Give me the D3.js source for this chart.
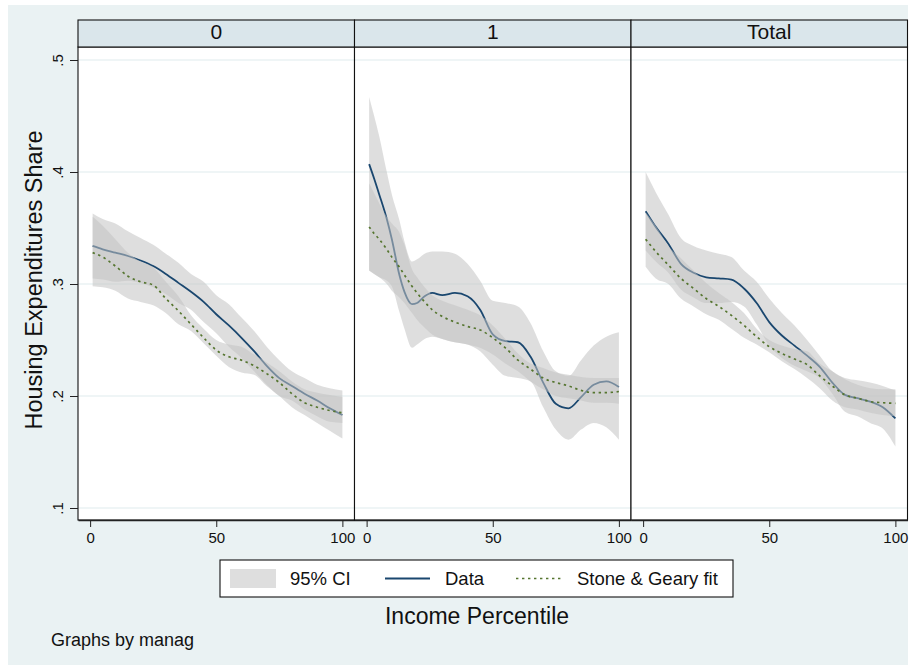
<!DOCTYPE html>
<meta charset="utf-8">
<style>
    body { margin: 0; background: #fff; }
    svg { font-family: "Liberation Sans", Arial, sans-serif; }
    .axis path, .axis line { stroke: #222; }
    .axis text { fill: #111; }
</style>
<body>
<svg id="chart" width="912" height="666"></svg>
</body>
<script src="https://d3js.org/d3.v7.min.js"></script>
<script>

    // ---- data ----
    var panelNames = ["0", "1", "Total"];
    var yTicks = [0.1, 0.2, 0.3, 0.4, 0.5];
    var xTicks = [0, 50, 100];
    var legendLabels = ["95% CI", "Data", "Stone & Geary fit"];

    // panel "0"
    var pct0 = [1, 5, 10, 15, 20, 25, 30, 35, 40, 45, 50, 55, 60, 65, 70, 75, 80, 85, 90, 95, 100];
    var data0 = [.334, .331, .328, .325, .321, .316, .309, .301, .293, .284, .273, .263, .252, .240, .227, .216, .209, .202, .196, .189, .183];
    var dataLo0 = [.305, .304, .302, .303, .301, .297, .291, .283, .277, .266, .256, .244, .234, .222, .210, .200, .196, .188, .182, .177, .176];
    var dataHi0 = [.363, .358, .354, .347, .341, .335, .327, .319, .309, .302, .290, .282, .270, .258, .244, .232, .222, .216, .210, .207, .205];
    var fit0 = [.328, .324, .316, .307, .302, .299, .287, .276, .264, .252, .241, .235, .232, .227, .220, .212, .202, .194, .190, .187, .185];
    var fitLo0 = [.298, .297, .294, .287, .284, .281, .274, .264, .258, .247, .236, .226, .221, .219, .209, .200, .190, .183, .176, .169, .162];
    var fitHi0 = [.360, .352, .340, .328, .320, .315, .302, .289, .272, .260, .250, .246, .244, .237, .230, .222, .213, .206, .203, .201, .199];

    // panel "1"
    var pct1 = [1, 3, 5, 8, 10, 13, 15, 18, 20, 23, 26, 30, 35, 40, 45, 50, 55, 60, 65, 70, 75, 80, 85, 90, 95, 100];
    var data1 = [.407, .394, .380, .358, .340, .308, .293, .282, .283, .289, .292, .290, .292, .289, .277, .255, .249, .248, .235, .212, .193, .189, .199, .210, .213, .208];
    var dataLo1 = [.312, .309, .306, .303, .298, .275, .260, .243, .246, .251, .253, .251, .248, .246, .240, .228, .218, .216, .213, .190, .170, .161, .170, .176, .172, .161];
    var dataHi1 = [.467, .450, .432, .400, .380, .357, .338, .320, .322, .327, .329, .329, .327, .318, .303, .285, .283, .280, .265, .240, .222, .218, .232, .245, .253, .257];
    var fit1 = [.351, .345, .340, .331, .324, .315, .308, .298, .292, .284, .277, .271, .266, .262, .259, .252, .243, .232, .224, .216, .212, .209, .205, .203, .203, .204];
    var fitLo1 = [.312, .309, .306, .300, .294, .288, .283, .274, .268, .261, .255, .251, .248, .246, .243, .237, .229, .222, .213, .206, .200, .198, .196, .194, .194, .193];
    var fitHi1 = [.390, .381, .372, .360, .354, .346, .335, .313, .306, .297, .290, .285, .281, .277, .272, .263, .251, .238, .229, .225, .221, .219, .217, .216, .216, .216];

    // panel "Total"
    var pct2 = [1, 5, 10, 15, 20, 25, 30, 35, 40, 45, 50, 55, 60, 65, 70, 75, 80, 85, 90, 95, 100];
    var data2 = [.365, .351, .336, .318, .310, .306, .305, .304, .296, .283, .266, .254, .245, .236, .226, .212, .201, .198, .195, .190, .180];
    var dataLo2 = [.330, .320, .310, .295, .288, .283, .283, .284, .280, .264, .245, .234, .227, .222, .216, .202, .186, .182, .176, .171, .155];
    var dataHi2 = [.400, .382, .362, .341, .334, .330, .327, .324, .312, .302, .287, .274, .263, .250, .236, .222, .216, .214, .212, .209, .205];
    var fit2 = [.340, .329, .317, .305, .296, .287, .280, .272, .263, .253, .244, .238, .233, .228, .218, .209, .201, .198, .195, .194, .1935];
    var fitLo2 = [.3155, .305, .300, .287, .280, .273, .268, .260, .252, .246, .239, .231, .224, .216, .207, .196, .190, .188, .185, .183, .182];
    var fitHi2 = [.364, .352, .334, .323, .312, .301, .292, .284, .274, .260, .250, .245, .242, .240, .229, .222, .215, .210, .207, .206, .206];

    var panels = [
        {name: panelNames[0], pct: pct0, data: data0, dataLo: dataLo0, dataHi: dataHi0, fit: fit0, fitLo: fitLo0, fitHi: fitHi0},
        {name: panelNames[1], pct: pct1, data: data1, dataLo: dataLo1, dataHi: dataHi1, fit: fit1, fitLo: fitLo1, fitHi: fitHi1},
        {name: panelNames[2], pct: pct2, data: data2, dataLo: dataLo2, dataHi: dataHi2, fit: fit2, fitLo: fitLo2, fitHi: fitHi2}
    ];

    // ---- look ----
    var bg = "#eaf2f3";
    var stripFill = "#dae6eb";
    var navy = "#1a476f";
    var green = "#55752f";
    var bandFill = "#c3c3c3";
    var bandOpacity = 0.55;

    var plotTop = 47, plotBottom = 520, panelLeft = 78, panelWidth = 276.5;

    var svg = d3.select("#chart");

    svg.append("rect")
        .attr("x", 8).attr("y", 5)
        .attr("width", 900).attr("height", 660)
        .attr("fill", bg);

    var y = d3.scaleLinear().domain([0.1, 0.5]).range([508, 60]);

    panels.forEach(function (p, i) {
        var left = panelLeft + i * panelWidth;
        var x = d3.scaleLinear().domain([-4.8, 104.8]).range([left, left + panelWidth]);
        var g = svg.append("g");

        // plot region
        g.append("rect")
            .attr("x", left).attr("y", plotTop)
            .attr("width", panelWidth).attr("height", plotBottom - plotTop)
            .attr("fill", "#fff");

        // grid
        g.selectAll(".grid").data(yTicks).enter().append("line")
            .attr("x1", left).attr("x2", left + panelWidth)
            .attr("y1", function (d) { return y(d); })
            .attr("y2", function (d) { return y(d); })
            .attr("stroke", bg).attr("stroke-width", 1.5);

        var idx = d3.range(p.pct.length);
        var area = function (lo, hi) {
            return d3.area()
                .x(function (k) { return x(p.pct[k]); })
                .y0(function (k) { return y(lo[k]); })
                .y1(function (k) { return y(hi[k]); })
                .curve(d3.curveMonotoneX)(idx);
        };
        var line = function (vals) {
            return d3.line()
                .x(function (k) { return x(p.pct[k]); })
                .y(function (k) { return y(vals[k]); })
                .curve(d3.curveMonotoneX)(idx);
        };

        g.append("path").attr("d", area(p.dataLo, p.dataHi))
            .attr("fill", bandFill).attr("fill-opacity", bandOpacity);
        g.append("path").attr("d", line(p.data))
            .attr("fill", "none").attr("stroke", navy).attr("stroke-width", 1.8);
        g.append("path").attr("d", area(p.fitLo, p.fitHi))
            .attr("fill", bandFill).attr("fill-opacity", bandOpacity);
        g.append("path").attr("d", line(p.fit))
            .attr("fill", "none").attr("stroke", green).attr("stroke-width", 1.7)
            .attr("stroke-dasharray", "2.4,3.6");

        // frame
        g.append("rect")
            .attr("x", left).attr("y", plotTop)
            .attr("width", panelWidth).attr("height", plotBottom - plotTop)
            .attr("fill", "none").attr("stroke", "#111").attr("stroke-width", 1.1);

        // strip
        g.append("rect")
            .attr("x", left).attr("y", 20)
            .attr("width", panelWidth).attr("height", plotTop - 20)
            .attr("fill", stripFill).attr("stroke", "#111").attr("stroke-width", 1.1);
        g.append("text")
            .attr("x", left + panelWidth / 2).attr("y", 38.5)
            .attr("text-anchor", "middle")
            .attr("font-size", 21).attr("fill", "#111")
            .text(p.name);

        // x axis
        var xa = g.append("g").attr("class", "axis")
            .attr("transform", "translate(0," + plotBottom + ")")
            .call(d3.axisBottom(x).tickValues(xTicks).tickSize(7).tickSizeOuter(0).tickPadding(5));
        xa.select(".domain").attr("stroke-width", 1.3);
        xa.selectAll(".tick line").attr("stroke", "#444");
        xa.selectAll("text").attr("font-size", 15).attr("font-family", null);
    });

    // y axis on the first panel
    var ya = svg.append("g").attr("class", "axis")
        .attr("transform", "translate(" + panelLeft + ",0)")
        .call(d3.axisLeft(y).tickValues(yTicks).tickSize(8).tickSizeOuter(0)
            .tickFormat(function (d) { return d3.format(".1f")(d).replace(/^0/, ""); }));
    ya.select(".domain").remove();
    ya.selectAll(".tick line").attr("stroke", "#444");
    ya.selectAll("text")
        .attr("font-size", 15).attr("font-family", null)
        .attr("x", 0).attr("dy", null)
        .attr("text-anchor", "middle")
        .attr("transform", "translate(-15,0) rotate(-90)");

    svg.append("text")
        .attr("transform", "translate(42,280) rotate(-90)")
        .attr("text-anchor", "middle")
        .attr("font-size", 23.5).attr("fill", "#111")
        .text("Housing Expenditures Share");

    // legend
    var lg = svg.append("g");
    lg.append("rect")
        .attr("x", 220).attr("y", 560).attr("width", 513).attr("height", 37)
        .attr("fill", "#fff").attr("stroke", "#111").attr("stroke-width", 1.1);
    lg.append("rect")
        .attr("x", 230).attr("y", 569).attr("width", 46).attr("height", 19)
        .attr("fill", bandFill).attr("fill-opacity", bandOpacity);
    lg.append("line")
        .attr("x1", 385).attr("x2", 430).attr("y1", 578.5).attr("y2", 578.5)
        .attr("stroke", navy).attr("stroke-width", 1.8);
    lg.append("line")
        .attr("x1", 516).attr("x2", 561).attr("y1", 578.5).attr("y2", 578.5)
        .attr("stroke", green).attr("stroke-width", 1.7).attr("stroke-dasharray", "2.4,3.6");
    [290, 445, 577].forEach(function (lx, k) {
        lg.append("text")
            .attr("x", lx).attr("y", 585)
            .attr("font-size", 18.5).attr("fill", "#111")
            .text(legendLabels[k]);
    });

    svg.append("text")
        .attr("x", 477).attr("y", 624)
        .attr("text-anchor", "middle")
        .attr("font-size", 23).attr("fill", "#111")
        .text("Income Percentile");

    svg.append("text")
        .attr("x", 51).attr("y", 646)
        .attr("font-size", 18).attr("fill", "#111")
        .text("Graphs by manag");

</script>
